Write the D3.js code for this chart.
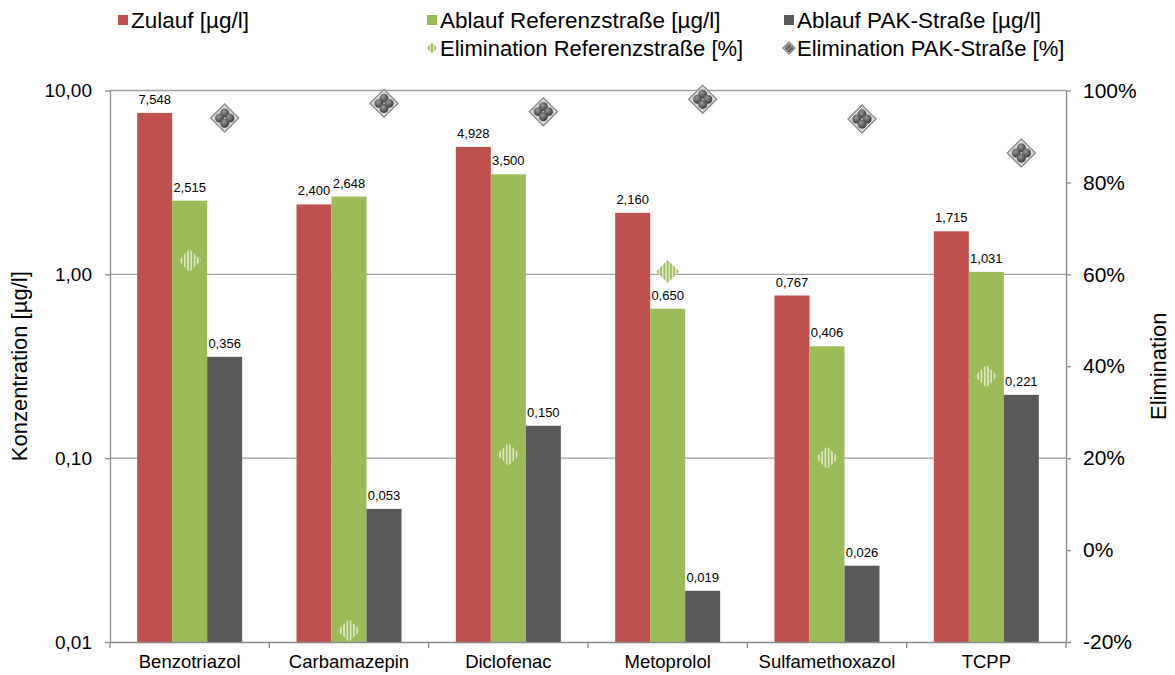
<!DOCTYPE html>
<meta charset="utf-8">
<script src="https://d3js.org/d3.v7.min.js"></script>
<style>
  body { margin: 0; background: #fff; }
  text { font-family: "Liberation Sans", Arial, sans-serif; fill: #000; }
</style>
<div id="chart"></div>
<script>

  // data
  var categories = ["Benzotriazol", "Carbamazepin", "Diclofenac", "Metoprolol", "Sulfamethoxazol", "TCPP"];
  var zulauf    = [7.548, 2.400, 4.928, 2.160, 0.767, 1.715];
  var ablaufRef = [2.515, 2.648, 3.500, 0.650, 0.406, 1.031];
  var ablaufPak = [0.356, 0.053, 0.150, 0.019, 0.026, 0.221];
  var elimRef   = [63.0, -17.5, 20.8, 60.6, 20.1, 37.8];
  var elimPak   = [94.0, 97.2, 95.4, 98.1, 93.8, 86.4];
  var leftTicks  = [0.01, 0.1, 1, 10];
  var rightTicks = [-20, 0, 20, 40, 60, 80, 100];
  var seriesNames = ["Zulauf [µg/l]", "Ablauf Referenzstraße [µg/l]", "Ablauf PAK-Straße [µg/l]"];
  var elimNames   = ["Elimination Referenzstraße [%]", "Elimination PAK-Straße [%]"];

  var colors = ["#c0504d", "#9bbb59", "#595959"];
  var bars = [zulauf, ablaufRef, ablaufPak];

  var W = 1175, H = 675;
  var plotLeft = 110, plotRight = 1066, plotTop = 90.5, plotBottom = 642;

  var de = d3.formatLocale({decimal: ",", thousands: ".", grouping: [3], currency: ["", " €"]});
  var fmt3 = de.format(".3f"), fmt2 = de.format(".2f");

  var svg = d3.select("#chart").append("svg")
    .attr("width", W).attr("height", H);

  var defs = svg.append("defs");

  // vertical stripes for the reference elimination marker
  var stripes = defs.append("pattern")
    .attr("id", "stripes").attr("patternUnits", "userSpaceOnUse")
    .attr("width", 3.3).attr("height", 4);
  stripes.append("rect").attr("width", 3.3).attr("height", 4).attr("fill", "#9bbb59");
  stripes.append("rect").attr("x", 1.1).attr("width", 1.1).attr("height", 4).attr("fill", "#fff");

  // light checker for the PAK marker
  var checker = defs.append("pattern")
    .attr("id", "checker").attr("patternUnits", "userSpaceOnUse")
    .attr("width", 2).attr("height", 2);
  checker.append("rect").attr("width", 2).attr("height", 2).attr("fill", "#fff");
  checker.append("rect").attr("width", 1).attr("height", 1).attr("fill", "#bbb");
  checker.append("rect").attr("x", 1).attr("y", 1).attr("width", 1).attr("height", 1).attr("fill", "#bbb");

  var ball = defs.append("radialGradient").attr("id", "ball")
    .attr("cx", "40%").attr("cy", "35%").attr("r", "65%");
  ball.append("stop").attr("offset", "0%").attr("stop-color", "#9a9a9a");
  ball.append("stop").attr("offset", "100%").attr("stop-color", "#3a3a3a");

  // scales
  var x0 = d3.scaleBand().domain(categories).range([plotLeft, plotRight]);
  var x1 = d3.scaleBand().domain([0, 1, 2]).range([0, x0.bandwidth()]).paddingOuter(0.776);
  var y = d3.scaleLog().domain([0.01, 10]).range([plotBottom, plotTop]);
  var y2 = d3.scaleLinear().domain([-20, 100]).range([plotBottom, plotTop]);

  // gridlines
  svg.append("g").selectAll("line")
    .data(leftTicks.filter(function(d) { return d > 0.01; }))
    .enter().append("line")
      .attr("x1", plotLeft).attr("x2", plotRight)
      .attr("y1", function(d) { return y(d); }).attr("y2", function(d) { return y(d); })
      .attr("stroke", "#a0a0a0").attr("stroke-width", 1.3);

  // bars
  bars.forEach(function(vals, s) {
    svg.append("g").selectAll("rect")
      .data(vals)
      .enter().append("rect")
        .attr("x", function(d, i) { return x0(categories[i]) + x1(s); })
        .attr("width", x1.bandwidth())
        .attr("y", function(d) { return y(d); })
        .attr("height", function(d) { return y(0.01) - y(d); })
        .attr("fill", colors[s]);

    svg.append("g").selectAll("text")
      .data(vals)
      .enter().append("text")
        .attr("x", function(d, i) { return x0(categories[i]) + x1(s) + x1.bandwidth() / 2; })
        .attr("y", function(d) { return y(d) - 9; })
        .attr("text-anchor", "middle")
        .style("font-size", "13px")
        .text(function(d) { return fmt3(d); });
  });

  // axes
  var yAxis = svg.append("g")
    .attr("transform", "translate(" + plotLeft + ",0)")
    .call(d3.axisLeft(y).tickValues(leftTicks).tickSize(5).tickSizeOuter(0).tickFormat(fmt2));
  yAxis.selectAll("text").style("font-size", "19px").attr("x", -18);

  var y2Axis = svg.append("g")
    .attr("transform", "translate(" + plotRight + ",0)")
    .call(d3.axisRight(y2).tickValues(rightTicks).tickSize(5).tickSizeOuter(0)
      .tickFormat(function(d) { return d + "%"; }));
  y2Axis.selectAll("text").style("font-size", "21px").attr("x", 17);

  var xAxis = svg.append("g")
    .attr("transform", "translate(0," + plotBottom + ")")
    .call(d3.axisBottom(x0).tickSize(0).tickSizeOuter(0));
  xAxis.selectAll("text").style("font-size", "18.5px").attr("y", 13);
  xAxis.selectAll(".sep")
    .data(d3.range(categories.length + 1))
    .enter().append("line")
      .attr("x1", function(i) { return plotLeft + i * x0.step(); })
      .attr("x2", function(i) { return plotLeft + i * x0.step(); })
      .attr("y1", 0).attr("y2", 6);

  [yAxis, y2Axis, xAxis].forEach(function(g) {
    g.selectAll("path, line").attr("stroke", "#8a8a8a").attr("stroke-width", 1.3);
  });

  // axis titles
  svg.append("text")
    .attr("transform", "translate(27," + (plotTop + plotBottom) / 2 + ")rotate(-90)")
    .attr("text-anchor", "middle")
    .style("font-size", "22px")
    .text("Konzentration [µg/l]");

  svg.append("text")
    .attr("transform", "translate(1166," + (plotTop + plotBottom) / 2 + ")rotate(-90)")
    .attr("text-anchor", "middle")
    .style("font-size", "22px")
    .text("Elimination");

  // markers
  function refMarker(g, r) {
    g.append("path")
      .attr("d", "M0," + (-r) + "L" + r + ",0L0," + r + "L" + (-r) + ",0Z")
      .attr("fill", "url(#stripes)");
  }
  function pakMarker(g, r) {
    g.append("path")
      .attr("d", "M0," + (-r) + "L" + r + ",0L0," + r + "L" + (-r) + ",0Z")
      .attr("fill", "url(#checker)").attr("stroke", "#8c8c8c").attr("stroke-width", 1.4);
    var o = r * 0.37, br = r * 0.32;
    [[0, -o], [-o, 0], [o, 0], [0, o]].forEach(function(p) {
      g.append("circle").attr("cx", p[0]).attr("cy", p[1]).attr("r", br)
        .attr("fill", "url(#ball)");
    });
  }

  elimRef.forEach(function(d, i) {
    var g = svg.append("g")
      .attr("transform", "translate(" + (x0(categories[i]) + x1(1) + x1.bandwidth() / 2) + "," + y2(d) + ")");
    refMarker(g, 11.5);
  });
  elimPak.forEach(function(d, i) {
    var g = svg.append("g")
      .attr("transform", "translate(" + (x0(categories[i]) + x1(2) + x1.bandwidth() / 2) + "," + y2(d) + ")");
    pakMarker(g, 14);
  });

  // legend
  var legX = [118, 427, 784];
  seriesNames.forEach(function(name, i) {
    svg.append("rect").attr("x", legX[i]).attr("y", 15).attr("width", 10).attr("height", 10)
      .attr("fill", colors[i]);
    svg.append("text").attr("x", legX[i] + 13).attr("y", 28)
      .style("font-size", "22.5px").text(name);
  });
  elimNames.forEach(function(name, i) {
    var g = svg.append("g").attr("transform", "translate(" + (legX[i + 1] + 5) + ",48)");
    if (i === 0) refMarker(g, 5.5); else pakMarker(g, 6);
    svg.append("text").attr("x", legX[i + 1] + 13).attr("y", 56)
      .style("font-size", "22px").text(name);
  });

</script>
